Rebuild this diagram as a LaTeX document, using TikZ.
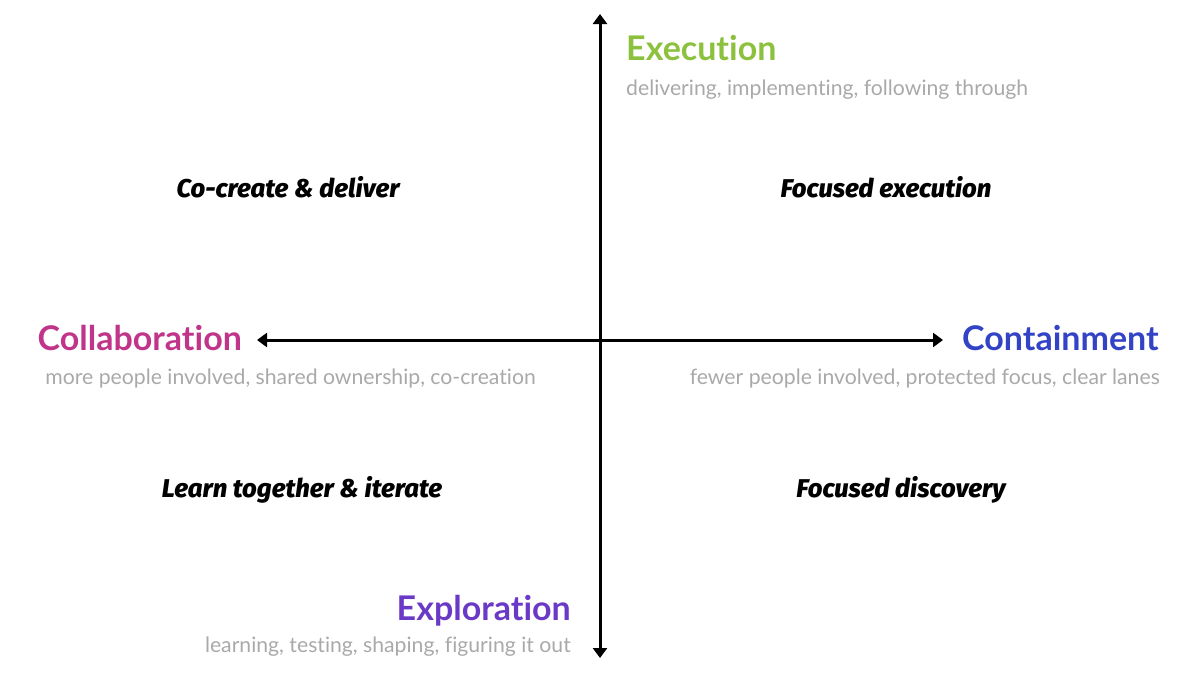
\documentclass[tikz,border=0pt]{standalone}
\usepackage{fontspec}
\setmainfont{Lato}[Ligatures={NoCommon}]
\newfontfamily\handfont{Fira Sans}[BoldItalicFont={* ExtraBold Italic}]
\usetikzlibrary{arrows.meta}
\definecolor{cgreen}{HTML}{8CC13E}
\definecolor{cmag}{HTML}{C0358A}
\definecolor{cblue}{HTML}{3343C6}
\definecolor{cpurp}{HTML}{6A3AC7}
\definecolor{cgray}{HTML}{A9A9A9}
\begin{document}
\begin{tikzpicture}[x=1pt,y=-1pt,
  axis/.style={line width=3pt,{Triangle[length=10pt,width=14pt]}-{Triangle[length=10pt,width=14pt]}},
  title/.style={inner sep=0pt,font=\fontsize{34}{34}\selectfont\bfseries},
  sub/.style={inner sep=0pt,text=cgray,font=\fontsize{21.2}{21.2}\selectfont},
  quad/.style={inner sep=0pt,anchor=base,font=\handfont\fontsize{25.7}{25.7}\selectfont\bfseries\itshape}]
\useasboundingbox (0,0) rectangle (1200,675);
\coordinate (top) at (600,14);
\coordinate (bot) at (600,658);
\coordinate (lft) at (257,340);
\coordinate (rgt) at (943,340);
\draw[axis] (bot) -- (top);
\draw[axis] (lft) -- (rgt);
\node[title,anchor=base west,text=cgreen] (exe) at (626,60) {Execution};
\node[sub,anchor=base west] (exes) at (626,95) {delivering, implementing, following through};
\node[title,anchor=base east,text=cmag] (col) at (242,350) {Collaboration};
\node[sub,anchor=base east] (cols) at (536,384) {more people involved, shared ownership, co-creation};
\node[title,anchor=base west,text=cblue] (con) at (962,350) {Containment};
\node[sub,anchor=base east] (cons) at (1160,384) {fewer people involved, protected focus, clear lanes};
\node[title,anchor=base east,text=cpurp] (expl) at (571,620) {Exploration};
\node[sub,anchor=base east] (expls) at (571,652) {learning, testing, shaping, figuring it out};
\node[quad] (q1) at (288,197) {Co-create \& deliver};
\node[quad] (q2) at (886,197) {Focused execution};
\node[quad] (q3) at (302,497) {Learn together \& iterate};
\node[quad] (q4) at (901,497) {Focused discovery};
\end{tikzpicture}
\end{document}
